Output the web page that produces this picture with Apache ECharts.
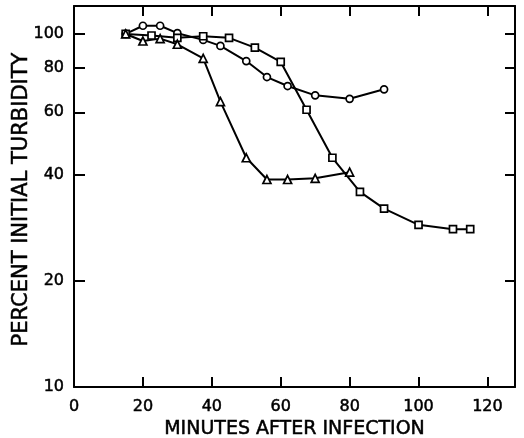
<!DOCTYPE html>
<html>
<head>
<meta charset="utf-8">
<script src="https://cdn.jsdelivr.net/npm/echarts@6/dist/echarts.min.js"></script>
<style>
  html, body { margin: 0; padding: 0; background: #fff; }
  #chart { width: 524px; height: 438px; }
</style>
</head>
<body>
<div id="chart"></div>
<script>
// 圆圈曲线 (minutes, percent)
const circleX = [15, 20, 25, 30, 37.5, 42.5, 50, 56, 62, 70, 80, 90];
const circleY = [100, 105.5, 105.5, 100.5, 96.2, 92.5, 83.8, 75.5, 71.2, 67, 65.5, 69.7];
// 方块曲线
const squareX = [15, 22.5, 30, 37.5, 45, 52.5, 60, 67.5, 75, 83, 90, 100, 110, 115];
const squareY = [100, 99, 97.5, 98.5, 97.5, 91.5, 83.3, 61, 44.6, 35.7, 32, 28.8, 28, 28];
// 三角曲线
const triX = [15, 20, 25, 30, 37.5, 42.5, 50, 56, 62, 70, 80];
const triY = [100, 95.5, 97, 93.5, 85.3, 64.3, 44.6, 38.7, 38.7, 39, 40.6];
// 刻度
const xTicks = [0, 20, 40, 60, 80, 100, 120];
const yTicks = [10, 20, 40, 60, 80, 100];

const font = 'DejaVu Sans';
const pair = (xs, ys) => xs.map((x, i) => [x, ys[i]]);
// 稍微加粗文字
const txt = (size) => ({color: '#000', fontFamily: font, fontSize: size, textBorderColor: '#000', textBorderWidth: 0.5});

const chart = echarts.init(document.getElementById('chart'));

const lineSeries = (name, symbol, data, size) => ({
  name: name,
  type: 'line',
  data: data,
  symbol: symbol,
  symbolSize: size,
  showAllSymbol: true,
  lineStyle: {color: '#000', width: 2},
  itemStyle: {color: '#fff', borderColor: '#000', borderWidth: 1.7},
  animation: false,
  z: 3
});

chart.setOption({
  backgroundColor: '#fff',
  animation: false,
  grid: {left: 74, top: 6, right: 9, bottom: 51, outerBoundsMode: 'none', containLabel: false},
  xAxis: [
    {
      type: 'value', min: 0, max: 128, interval: 20,
      name: 'MINUTES AFTER INFECTION',
      nameLocation: 'middle', nameGap: 33, nameMoveOverlap: false,
      nameTextStyle: txt(19),
      axisLine: {show: true, lineStyle: {color: '#000', width: 2}},
      axisTick: {show: true, inside: true, length: 10, lineStyle: {color: '#000', width: 2}, customValues: xTicks},
      axisLabel: Object.assign(txt(16), {margin: 12, customValues: xTicks}),
      splitLine: {show: false}
    },
    {
      type: 'value', min: 0, max: 128, position: 'top',
      axisLine: {show: true, onZero: false, lineStyle: {color: '#000', width: 2}},
      axisTick: {show: true, inside: true, length: 10, lineStyle: {color: '#000', width: 2}, customValues: xTicks},
      axisLabel: {show: false},
      splitLine: {show: false}
    }
  ],
  yAxis: [
    {
      type: 'log', min: 10, max: 120, logBase: 10,
      name: 'PERCENT INITIAL TURBIDITY',
      nameLocation: 'middle', nameGap: 42, nameRotate: 90, nameMoveOverlap: false,
      nameTextStyle: Object.assign(txt(21), {padding: [0, 6, 0, 0]}),
      axisLine: {show: true, lineStyle: {color: '#000', width: 2}},
      axisTick: {show: true, inside: true, length: 11, lineStyle: {color: '#000', width: 2}, customValues: yTicks},
      axisLabel: Object.assign(txt(16), {margin: 10, customValues: yTicks}),
      minorTick: {show: false},
      splitLine: {show: false}
    },
    {
      type: 'log', min: 10, max: 120, logBase: 10, position: 'right',
      axisLine: {show: true, onZero: false, lineStyle: {color: '#000', width: 2}},
      axisTick: {show: true, inside: true, length: 10, lineStyle: {color: '#000', width: 2}, customValues: yTicks},
      axisLabel: {show: false},
      splitLine: {show: false}
    }
  ],
  series: [
    lineSeries('circle', 'circle', pair(circleX, circleY), 7),
    lineSeries('square', 'rect', pair(squareX, squareY), 7),
    lineSeries('triangle', 'triangle', pair(triX, triY), 8)
  ]
});
</script>
</body>
</html>
